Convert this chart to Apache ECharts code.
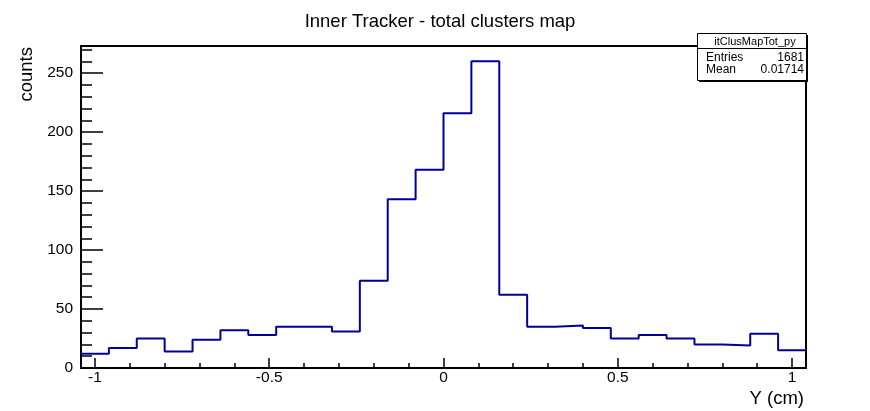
<!DOCTYPE html>
<html>
<head>
<meta charset="utf-8">
<title>Inner Tracker - total clusters map</title>
<script src="https://cdn.jsdelivr.net/npm/echarts@6/dist/echarts.min.js"></script>
<style>
  html, body { margin: 0; padding: 0; background: #fff; }
  #chart { width: 870px; height: 411px; }
</style>
</head>
<body>
<div id="chart"></div>
<script>
// Histogram itClusMapTot_py: 26 bins of 0.08 cm between -1.04 and 1.04
const xMin = -1.04;
const xMax = 1.04;
const binWidth = 0.08;
const binCounts = [12, 17, 25, 14, 24, 32, 28, 35, 35, 31, 74, 143, 168, 216, 260,
                   62, 35, 36, 34, 25, 28, 25, 20, 19, 29, 15];
const yMax = 273;

// Axis ticks and labels
const xMajorTicks = [-1, -0.5, 0, 0.5, 1];
const xMinorTicks = [-1, -0.9, -0.8, -0.7, -0.6, -0.5, -0.4, -0.3, -0.2, -0.1, 0,
                     0.1, 0.2, 0.3, 0.4, 0.5, 0.6, 0.7, 0.8, 0.9, 1];
const yMajorTicks = [0, 50, 100, 150, 200, 250];
const yMinorTicks = [0, 10, 20, 30, 40, 50, 60, 70, 80, 90, 100, 110, 120, 130, 140,
                     150, 160, 170, 180, 190, 200, 210, 220, 230, 240, 250, 260, 270];

// Statistics box
const statsName = 'itClusMapTot_py';
const statsEntries = '1681';
const statsMean = '0.01714';

// Step outline: one point per bin edge, the last edge repeats the last bin
const stepPoints = [];
for (let i = 0; i <= binCounts.length; i++) {
  const edge = +(xMin + i * binWidth).toFixed(4);
  stepPoints.push([edge, binCounts[Math.min(i, binCounts.length - 1)]]);
}

const FONT = '"Liberation Sans", Arial, Helvetica, sans-serif';
const chart = echarts.init(document.getElementById('chart'), null, { renderer: 'canvas' });

const G = { left: 81, top: 46, width: 725, height: 322 };

chart.setOption({
  animation: false,
  backgroundColor: '#fff',
  grid: {
    left: G.left, top: G.top, width: G.width, height: G.height,
    show: true, borderColor: '#000', borderWidth: 2, backgroundColor: 'transparent'
  },
  xAxis: [
    {
      type: 'value', min: xMin, max: xMax, position: 'bottom',
      axisLine: { show: true, onZero: false, lineStyle: { color: '#000', width: 2 } },
      axisTick: { show: true, inside: true, length: 10, customValues: xMajorTicks,
                  lineStyle: { color: '#000', width: 1.5 } },
      axisLabel: { show: true, customValues: xMajorTicks, margin: 2, color: '#000',
                   fontFamily: FONT, fontSize: 15.5,
                   formatter: v => String(v) },
      splitLine: { show: false }
    },
    {
      type: 'value', min: xMin, max: xMax, position: 'bottom',
      axisLine: { show: false, onZero: false },
      axisTick: { show: true, inside: true, length: 5, customValues: xMinorTicks,
                  lineStyle: { color: '#000', width: 1.5 } },
      axisLabel: { show: false },
      splitLine: { show: false }
    }
  ],
  yAxis: [
    {
      type: 'value', min: 0, max: yMax, position: 'left',
      axisLine: { show: true, onZero: false, lineStyle: { color: '#000', width: 2 } },
      axisTick: { show: true, inside: true, length: 22, customValues: yMajorTicks,
                  lineStyle: { color: '#000', width: 1.5 } },
      axisLabel: { show: true, customValues: yMajorTicks, margin: 8, color: '#000',
                   fontFamily: FONT, fontSize: 15.5 },
      splitLine: { show: false }
    },
    {
      type: 'value', min: 0, max: yMax, position: 'left',
      axisLine: { show: false, onZero: false },
      axisTick: { show: true, inside: true, length: 11, customValues: yMinorTicks,
                  lineStyle: { color: '#000', width: 1.5 } },
      axisLabel: { show: false },
      splitLine: { show: false }
    }
  ],
  series: [{
    type: 'line',
    xAxisIndex: 0,
    yAxisIndex: 0,
    step: 'end',
    data: stepPoints,
    showSymbol: false,
    symbol: 'none',
    clip: true,
    lineStyle: { color: '#000099', width: 2 },
    z: 3
  }],
  graphic: [
    {
      type: 'text', x: 440, y: 22, z: 10,
      style: { text: 'Inner Tracker - total clusters map', font: '18.5px ' + FONT,
               fill: '#000', textAlign: 'center', textVerticalAlign: 'middle' }
    },
    {
      type: 'text', x: 27, y: 47, rotation: Math.PI / 2, z: 10,
      style: { text: 'counts', font: '18.5px ' + FONT, fill: '#000',
               textAlign: 'right', textVerticalAlign: 'middle' }
    },
    {
      type: 'text', x: 804, y: 399, z: 10,
      style: { text: 'Y (cm)', font: '18.5px ' + FONT, fill: '#000',
               textAlign: 'right', textVerticalAlign: 'middle' }
    },
    // stats box with its shadow
    {
      type: 'rect', z: 20,
      shape: { x: 699, y: 35, width: 109, height: 47 },
      style: { fill: '#000' }
    },
    {
      type: 'rect', z: 21,
      shape: { x: 697.5, y: 33.5, width: 109, height: 47 },
      style: { fill: '#fff', stroke: '#000', lineWidth: 1 }
    },
    {
      type: 'line', z: 22,
      shape: { x1: 697.5, y1: 48.5, x2: 806.5, y2: 48.5 },
      style: { stroke: '#000', lineWidth: 1 }
    },
    {
      type: 'text', x: 755, y: 41.5, z: 23,
      style: { text: statsName, font: '11px ' + FONT, fill: '#000',
               textAlign: 'center', textVerticalAlign: 'middle' }
    },
    {
      type: 'text', x: 706, y: 57.5, z: 23,
      style: { text: 'Entries', font: '12px ' + FONT, fill: '#000',
               textAlign: 'left', textVerticalAlign: 'middle' }
    },
    {
      type: 'text', x: 804, y: 57.5, z: 23,
      style: { text: statsEntries, font: '12px ' + FONT, fill: '#000',
               textAlign: 'right', textVerticalAlign: 'middle' }
    },
    {
      type: 'text', x: 706, y: 70, z: 23,
      style: { text: 'Mean', font: '12px ' + FONT, fill: '#000',
               textAlign: 'left', textVerticalAlign: 'middle' }
    },
    {
      type: 'text', x: 804, y: 70, z: 23,
      style: { text: statsMean, font: '12px ' + FONT, fill: '#000',
               textAlign: 'right', textVerticalAlign: 'middle' }
    }
  ]
});
</script>
</body>
</html>
